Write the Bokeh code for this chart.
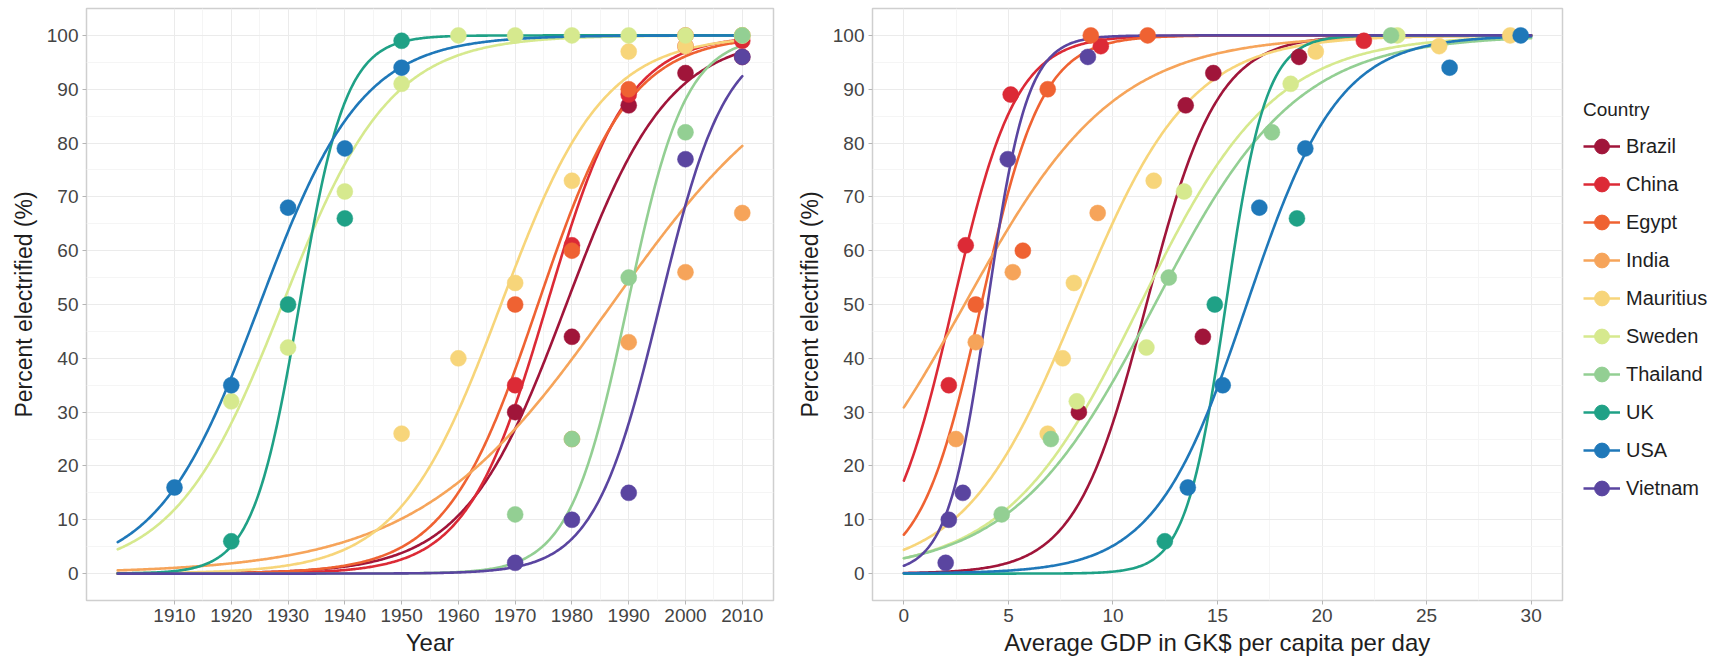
import numpy as np
from bokeh.plotting import figure
from bokeh.models import Range1d, FixedTicker, Legend, LegendItem
from bokeh.layouts import row
from bokeh.embed import file_html
from bokeh.resources import INLINE

# ---------------- data ----------------
countries = ["Brazil", "China", "Egypt", "India", "Mauritius",
             "Sweden", "Thailand", "UK", "USA", "Vietnam"]
colors = ["#a0153a", "#dc2a36", "#ef6232", "#f6a45a", "#f7d57a",
          "#d6e98e", "#93cf93", "#1fa186", "#1f78b9", "#5a45a0"]

year_ticks = [1910, 1920, 1930, 1940, 1950, 1960, 1970, 1980, 1990, 2000, 2010]
gdp_ticks = [0, 5, 10, 15, 20, 25, 30]
pct_ticks = [0, 10, 20, 30, 40, 50, 60, 70, 80, 90, 100]

# observed points: percent electrified by year
year_pts = {
    "Brazil":    [1970, 1980, 1990, 2000, 2010],
    "China":     [1970, 1980, 1990, 2000, 2010],
    "Egypt":     [1970, 1980, 1990, 2000, 2010],
    "India":     [1980, 1990, 2000, 2010],
    "Mauritius": [1950, 1960, 1970, 1980, 1990, 2000, 2010],
    "Sweden":    [1920, 1930, 1940, 1950, 1960, 1970, 1980, 1990, 2000, 2010],
    "Thailand":  [1970, 1980, 1990, 2000, 2010],
    "UK":        [1920, 1930, 1940, 1950],
    "USA":       [1910, 1920, 1930, 1940, 1950],
    "Vietnam":   [1970, 1980, 1990, 2000, 2010],
}
year_vals = {
    "Brazil":    [30, 44, 87, 93, 96],
    "China":     [35, 61, 89, 98, 99],
    "Egypt":     [50, 60, 90, 100, 100],
    "India":     [25, 43, 56, 67],
    "Mauritius": [26, 40, 54, 73, 97, 98, 100],
    "Sweden":    [32, 42, 71, 91, 100, 100, 100, 100, 100, 100],
    "Thailand":  [11, 25, 55, 82, 100],
    "UK":        [6, 50, 66, 99],
    "USA":       [16, 35, 68, 79, 94],
    "Vietnam":   [2, 10, 15, 77, 96],
}
# observed points: percent electrified by GDP (GK$ per capita per day)
gdp_pts = {
    "Brazil":    [8.37, 14.3, 13.48, 14.8, 18.9],
    "China":     [2.15, 2.96, 5.11, 9.42, 22.0],
    "Egypt":     [3.44, 5.69, 6.88, 8.94, 11.66],
    "India":     [2.49, 3.44, 5.21, 9.27],
    "Mauritius": [6.88, 7.6, 8.13, 11.95, 19.7, 25.6, 29.0],
    "Sweden":    [8.27, 11.6, 13.4, 18.5, 23.6],
    "Thailand":  [4.68, 7.03, 12.67, 17.6, 23.3],
    "UK":        [12.48, 14.87, 18.8],
    "USA":       [13.58, 15.25, 17.0, 19.2, 26.1, 29.5],
    "Vietnam":   [2.0, 2.15, 2.82, 4.97, 8.8],
}
gdp_vals = {
    "Brazil":    [30, 44, 87, 93, 96],
    "China":     [35, 61, 89, 98, 99],
    "Egypt":     [50, 60, 90, 100, 100],
    "India":     [25, 43, 56, 67],
    "Mauritius": [26, 40, 54, 73, 97, 98, 100],
    "Sweden":    [32, 42, 71, 91, 100],
    "Thailand":  [11, 25, 55, 82, 100],
    "UK":        [6, 50, 66],
    "USA":       [16, 35, 68, 79, 94, 100],
    "Vietnam":   [2, 10, 15, 77, 96],
}
# fitted logistic curves (midpoint, scale)
year_mid   = [1979.0, 1975.6, 1974.0, 1987.0, 1967.5, 1929.0, 1989.8, 1932.0, 1925.0, 1995.5]
year_scale = [9.0, 7.1, 8.1, 17.0, 9.0, 9.5, 5.1, 4.1, 9.0, 5.8]
gdp_mid    = [11.6, 2.35, 3.7, 2.9, 8.3, 11.3, 12.0, 15.4, 16.4, 4.0]
gdp_scale  = [1.7, 1.5, 1.45, 3.6, 2.7, 3.2, 3.4, 0.96, 2.2, 0.95]
year_span = (1900, 2010)
gdp_span = (0, 30)

FONT = "Liberation Sans"
H = 664
TOP = 8
BOTTOM = 64


def logistic(x, m, s):
    return 100.0 / (1.0 + np.exp(-(x - m) / s))


def midpoints(t):
    return [(a + b) / 2 for a, b in zip(t[:-1], t[1:])]


def style(p, xticks, xlabel):
    p.background_fill_color = "white"
    p.border_fill_color = "white"
    p.outline_line_color = "#cfcfcf"
    p.outline_line_width = 1.5
    p.xaxis.ticker = FixedTicker(ticks=xticks, minor_ticks=midpoints(xticks))
    p.yaxis.ticker = FixedTicker(ticks=pct_ticks, minor_ticks=midpoints(pct_ticks))
    p.xaxis.axis_label = xlabel
    p.yaxis.axis_label = "Percent electrified (%)"
    for ax in (p.xaxis[0], p.yaxis[0]):
        ax.axis_line_color = None
        ax.major_tick_line_color = "#b5b5b5"
        ax.major_tick_out = 4
        ax.major_tick_in = 0
        ax.minor_tick_line_color = None
        ax.major_label_text_font = FONT
        ax.major_label_text_font_size = "19px"
        ax.major_label_text_color = "#444444"
        ax.major_label_standoff = 4
        ax.axis_label_text_font = FONT
        ax.axis_label_text_font_style = "normal"
        ax.axis_label_text_color = "#1e1e1e"
    p.xaxis.axis_label_text_font_size = "24px"
    p.yaxis.axis_label_text_font_size = "23px"
    p.xaxis.axis_label_standoff = 4
    p.yaxis.axis_label_standoff = 7
    for g in (p.xgrid[0], p.ygrid[0]):
        g.grid_line_color = "#ebebeb"
        g.grid_line_width = 1
        g.minor_grid_line_color = "#f5f5f5"
        g.minor_grid_line_width = 1


def draw(p, span, mids, scales, pts, vals):
    xs = np.linspace(span[0], span[1], 500)
    for c, col, m, s in zip(countries, colors, mids, scales):
        p.line(xs, logistic(xs, m, s), line_color=col, line_width=2.6,
               line_cap="round", line_join="round")
    for c, col in zip(countries, colors):
        p.scatter(pts[c], vals[c], size=16, fill_color=col, line_color=col,
                  line_width=0.5)


p1 = figure(width=790, height=H, x_range=Range1d(1894.5, 2015.5),
            y_range=Range1d(-5, 105), toolbar_location=None, output_backend="svg",
            min_border_left=86, min_border_right=17, min_border_top=TOP,
            min_border_bottom=BOTTOM)
style(p1, year_ticks, "Year")
draw(p1, year_span, year_mid, year_scale, year_pts, year_vals)

p2 = figure(width=774, height=H, x_range=Range1d(-1.5, 31.5),
            y_range=Range1d(-5, 105), toolbar_location=None, output_backend="svg",
            min_border_left=82, min_border_right=2, min_border_top=TOP,
            min_border_bottom=BOTTOM)
style(p2, gdp_ticks, "Average GDP in GK$ per capita per day")
draw(p2, gdp_span, gdp_mid, gdp_scale, gdp_pts, gdp_vals)

# legend panel (its own small figure to the right)
pl = figure(width=157, height=H, x_range=Range1d(0, 1), y_range=Range1d(0, 1),
            toolbar_location=None, output_backend="svg", x_axis_type=None,
            y_axis_type=None, min_border_left=0, min_border_top=TOP,
            min_border_right=0, min_border_bottom=BOTTOM)
pl.grid.visible = False
pl.outline_line_color = None
pl.background_fill_color = "white"
pl.border_fill_color = "white"
items = []
for c, col in zip(countries, colors):
    r1 = pl.line([-5, -4], [-5, -4], line_color=col, line_width=2.6)
    r2 = pl.scatter([-5], [-5], size=16, fill_color=col, line_color=col)
    items.append(LegendItem(label=c, renderers=[r1, r2]))
leg = Legend(items=items, location=(19, 93), title="Country",
             margin=0, padding=0, spacing=0, glyph_width=37, glyph_height=38,
             label_height=38, label_standoff=6, border_line_color=None,
             background_fill_alpha=0,
             title_text_font=FONT, title_text_font_size="19px",
             title_text_font_style="normal", title_text_color="#1e1e1e",
             title_standoff=6,
             label_text_font=FONT, label_text_font_size="20px",
             label_text_color="#1e1e1e")
pl.add_layout(leg)

layout = row(p1, p2, pl, spacing=0)
open("out.html", "w").write(file_html(layout, INLINE))
